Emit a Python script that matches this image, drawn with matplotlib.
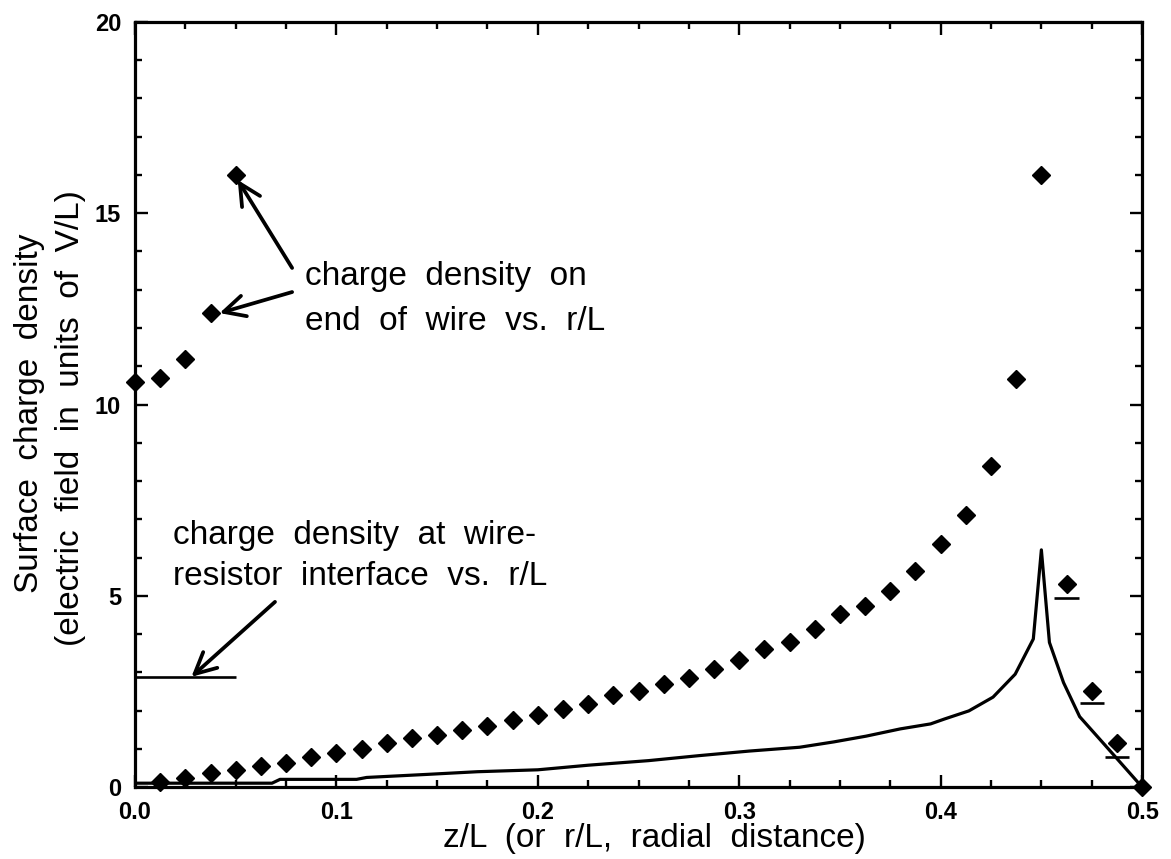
import numpy as np
import matplotlib
matplotlib.use("Agg")
import matplotlib.pyplot as plt
from matplotlib.ticker import MultipleLocator, FormatStrFormatter

plt.rcParams['font.family'] = ['Liberation Sans', 'DejaVu Sans']

# surface charge along the wire, z/L = 0.0125 .. 0.5
z_pts = np.arange(1, 41) * 0.0125
sigma_pts = [0.13, 0.24, 0.37, 0.44, 0.55, 0.63, 0.78, 0.89, 0.99, 1.15,
             1.28, 1.36, 1.49, 1.59, 1.75, 1.88, 2.04, 2.17, 2.40, 2.51,
             2.69, 2.85, 3.08, 3.32, 3.61, 3.79, 4.12, 4.52, 4.74, 5.13,
             5.65, 6.35, 7.12, 8.39, 10.66, 16.0, 5.3, 2.5, 1.15, 0.0]

# charge density on the end of the wire vs r/L
r_end = [0.0, 0.0125, 0.025, 0.0375, 0.05]
sigma_end = [10.6, 10.7, 11.2, 12.4, 16.0]

# charge density at the wire-resistor interface
r_iface = [0.0, 0.05]
sigma_iface = 2.88

# short bars under the last three points past the peak
bar_z = [0.4625, 0.475, 0.4875]
bar_val = [4.95, 2.2, 0.78]

# continuous curve
z_line = [0.0, 0.035, 0.068, 0.072, 0.11, 0.115, 0.145, 0.17, 0.2, 0.225,
          0.255, 0.28, 0.305, 0.33, 0.347, 0.363, 0.38, 0.395, 0.402, 0.414,
          0.426, 0.437, 0.446, 0.45, 0.454, 0.461, 0.469, 0.48, 0.5]
s_line = [0.1, 0.1, 0.1, 0.2, 0.2, 0.25, 0.33, 0.4, 0.45, 0.57,
          0.69, 0.82, 0.94, 1.04, 1.18, 1.33, 1.52, 1.65, 1.78, 1.99,
          2.35, 2.95, 3.87, 6.2, 3.78, 2.73, 1.84, 1.19, 0.0]

fig = plt.figure(figsize=(11.71, 8.59), dpi=100)
ax = fig.add_axes([0.1153, 0.0838, 0.860, 0.8906])

ax.plot(z_line, s_line, color='black', lw=2.3)
ax.plot(z_pts, sigma_pts, 'D', color='black', ms=9.5, clip_on=False)
ax.plot(r_end, sigma_end, 'D', color='black', ms=9.5, clip_on=False)
ax.hlines(sigma_iface, r_iface[0], r_iface[1], color='black', lw=1.9)
ax.hlines(bar_val, np.array(bar_z) - 0.006, np.array(bar_z) + 0.006,
          color='black', lw=1.9)

ax.set_xlim(0, 0.5)
ax.set_ylim(0, 20)
ax.xaxis.set_major_locator(MultipleLocator(0.1))
ax.xaxis.set_minor_locator(MultipleLocator(0.025))
ax.yaxis.set_major_locator(MultipleLocator(5))
ax.yaxis.set_minor_locator(MultipleLocator(1))
ax.xaxis.set_major_formatter(FormatStrFormatter('%.1f'))
ax.yaxis.set_major_formatter(FormatStrFormatter('%d'))
ax.tick_params(which='both', direction='in', top=True, right=True, width=1.7)
ax.tick_params(which='major', length=9, labelsize=17, pad=10)
ax.tick_params(which='minor', length=5)
for lbl in ax.get_xticklabels() + ax.get_yticklabels():
    lbl.set_fontweight('bold')
for sp in ax.spines.values():
    sp.set_linewidth(2.3)

arrow = dict(arrowstyle='->', lw=2.7, color='black', mutation_scale=38,
             shrinkA=0, shrinkB=0)
ax.annotate('', xy=(0.051, 15.87), xytext=(0.078, 13.57), arrowprops=arrow)
ax.annotate('', xy=(0.042, 12.39), xytext=(0.078, 12.94), arrowprops=arrow)
ax.annotate('', xy=(0.028, 2.88), xytext=(0.0695, 4.84), arrowprops=arrow)

tsize = 24
ax.text(0.0843, 13.12, 'charge  density  on', fontsize=tsize, va='baseline')
ax.text(0.0843, 11.95, 'end  of  wire  vs.  r/L', fontsize=tsize,
        va='baseline')
ax.text(0.0189, 6.35, 'charge  density  at  wire-', fontsize=tsize,
        va='baseline')
ax.text(0.0189, 5.28, 'resistor  interface  vs.  r/L', fontsize=tsize,
        va='baseline')

fig.text(0.559, 0.0244, 'z/L  (or  r/L,  radial  distance)', fontsize=24,
         ha='center', va='center')
fig.text(0.025, 0.519, 'Surface  charge  density', fontsize=24, rotation=90,
         ha='center', va='center')
fig.text(0.060, 0.513, '(electric  field  in  units  of  V/L)', fontsize=24,
         rotation=90, ha='center', va='center')

fig.savefig('out.png', dpi=100)
